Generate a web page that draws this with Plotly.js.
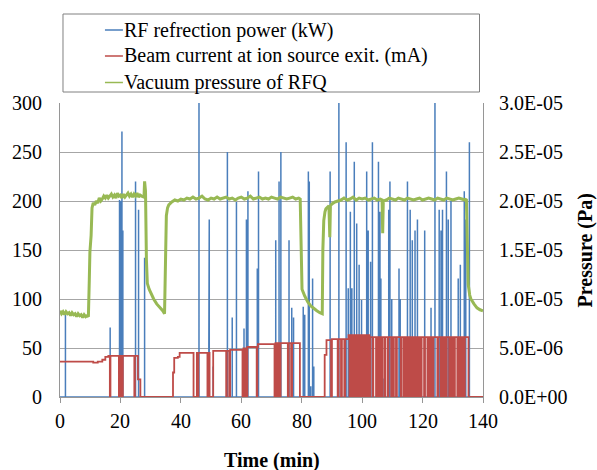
<!DOCTYPE html>
<html>
<head>
<meta charset="utf-8">
<script src="https://cdn.plot.ly/plotly-3.0.1.min.js"></script>
<style>
html,body{margin:0;padding:0;background:#fff;}
#chart{width:597px;height:470px;}
</style>
</head>
<body>
<div id="chart"></div>
<script>
// ---------------- DATA ----------------
// RF refraction power spikes (kW): time (min) and peak height
const spikeTime = [1.8, 16.6, 19.7, 20.0, 20.5, 20.8, 25.0, 26.0, 28.0,
  46.0, 49.2, 49.4, 50.7, 55.4, 57.0, 58.4, 60.9, 61.7, 62.2, 65.3, 65.7,
  71.4, 72.5, 73.1, 75.8, 76.7, 77.3, 80.5, 81.0, 82.2, 82.5, 83.0, 83.6, 84.0,
  89.4, 92.3, 94.7, 95.4, 96.1, 96.6, 97.4, 98.2, 99.0, 99.8, 101.5, 102.0, 102.8,
  103.4, 105.4, 105.9, 106.2, 106.9, 108.8, 109.2, 109.8, 112.2, 112.6, 115.0,
  115.9, 116.6, 117.5, 118.3, 120.7, 122.8, 124.1, 125.5, 126.1, 126.6, 127.9,
  128.5, 129.4, 131.8, 132.5, 133.8, 134.3, 135.5];
const spikePower = [84, 71, 201, 200, 271, 170, 220, 191, 142,
  300, 160, 181, 31, 250, 81, 199, 70, 181, 210, 131, 230,
  160, 220, 250, 160, 91, 81, 92, 84, 230, 220, 11, 121, 31,
  230, 300, 260, 111, 189, 111, 240, 177, 135, 99, 230, 170, 138,
  260, 240, 189, 121, 19, 191, 220, 100, 131, 100, 220,
  191, 160, 170, 181, 170, 91, 300, 191, 170, 191, 230,
  181, 200, 121, 135, 210, 181, 260];

// Beam current (mA): level changes (time, level)
const beamLevelTime = [0, 11, 12.5, 14, 15, 16, 25.8, 26.6, 37.4, 37.8, 39.0, 39.6,
  45.5, 49.5, 50.7, 56.0, 60.5, 62.0, 65.5, 71.0, 73.3, 79.4, 87.6, 88.2, 89.8,
  95.5, 102.5, 135.2];
const beamLevel = [36, 35, 36, 38, 41, 42, 18, 0, 25, 40, 41, 45,
  45, 0, 47, 48, 49.5, 51, 54, 55, 55, 0, 43, 58, 59,
  63, 61, 0];
// Beam interruptions: start and end times (min)
const dropStart = [16.5, 19.5, 20.0, 20.5, 24.6, 44.2, 45.6, 48.8, 55.0, 56.0,
  60.4, 61.2, 61.8, 65.1, 71.0, 71.5, 72.1, 72.7, 75.4, 76.5,
  89.7, 91.9, 93.0, 94.1, 95.8, 96.4, 96.9, 97.7, 98.2, 98.5, 99.3, 99.8, 100.2, 100.8,
  101.3, 101.9, 102.4, 103.5, 104.6, 105.5, 106.3, 107.3, 108.4, 109.6, 110.3, 111.2,
  112.8, 113.8, 114.5, 115.3, 116.1, 117.0, 117.8, 118.7, 119.4, 120.5, 121.6,
  122.5, 123.3, 124.9, 126.0, 126.9, 127.7, 128.8, 129.7, 130.4, 131.5, 132.1,
  133.0, 133.7];
const dropEnd = [16.7, 19.7, 20.2, 20.8, 24.8, 45.3, 45.8, 49.0, 55.2, 56.3,
  60.7, 61.4, 62.0, 65.3, 71.3, 71.8, 72.4, 73.0, 75.7, 76.8,
  90.0, 92.2, 93.3, 94.4, 96.1, 96.6, 97.2, 98.0, 98.4, 98.8, 99.6, 100.0, 100.5, 101.0,
  101.6, 102.1, 102.7, 103.7, 104.9, 105.7, 106.6, 107.6, 108.7, 109.8, 110.5, 111.5,
  113.1, 114.0, 114.8, 115.5, 116.4, 117.2, 118.1, 118.9, 119.7, 120.8, 121.9,
  122.7, 123.6, 125.2, 126.3, 127.1, 128.0, 129.1, 129.9, 130.7, 131.7, 132.4,
  133.2, 134.0];

// Vacuum pressure of RFQ (x 1E-06 Pa)
const pressTime = [0, 0.5, 1, 1.5, 2, 2.5, 3, 3.5, 4, 4.5, 5, 5.5, 6, 6.5, 7, 7.5, 8, 8.5, 9, 9.4, 9.7, 9.9, 10.3, 10.6, 11, 11.5, 12, 12.5, 13, 13.5, 14, 14.5, 15,
  15.5, 16, 16.5, 17, 17.5, 18, 18.5, 19, 19.5, 20, 20.5, 21, 21.5, 22, 22.5, 23, 23.5, 24, 24.5, 25, 25.5, 26, 26.5, 27, 27.8, 28.0, 28.3, 28.6, 28.9, 29.5, 30, 31,
  32, 33, 34, 34.6, 34.9, 35.2, 35.6, 36, 37, 38, 39, 40, 41, 42, 43, 44, 45, 46, 47, 48,
  49, 50, 51, 52, 53, 54, 55, 56, 57, 58, 59, 60, 61, 62, 63, 64, 65, 66, 67, 68,
  69, 70, 71, 72, 73, 74, 75, 76, 77, 78, 79, 79.5, 79.8, 80.1, 81, 82, 83, 84, 85, 86,
  86.8, 87.0, 87.3, 87.7, 88, 89, 89.3, 89.5, 90, 91, 92, 93, 94, 95, 96, 97, 98, 99,
  100, 101, 102, 103, 104, 105, 106, 106.6, 106.8, 107.0, 108, 109, 110, 111, 112, 113,
  114, 115, 116, 117, 118, 119, 120, 121, 122, 123, 124, 125, 126, 127, 128, 129, 130,
  131, 132, 133, 134, 134.5, 134.8, 135.1, 135.6, 136, 137, 138, 139, 140];
const pressE6 = [8.8, 8.5, 8.7, 8.4, 8.7, 8.5, 8.6, 8.3, 8.6, 8.4, 8.5, 8.2, 8.5, 8.3, 8.4, 8.1, 8.4, 8.2, 8.3, 8.2, 12.0, 14.8, 16.5, 19.3, 19.8, 19.6, 20.0, 19.8, 20.3, 20.0, 20.2, 20.5, 20.3,
  20.6, 20.3, 20.5, 20.7, 20.4, 20.6, 20.3, 20.8, 20.5, 20.6, 20.3, 20.7, 20.4, 20.6, 20.8, 20.5, 20.7, 20.4, 20.7, 20.5, 20.8, 20.4, 20.6, 20.5, 20.4, 22.0, 21.0, 14.0, 11.6, 11.0, 10.6, 10.0,
  9.5, 9.2, 8.8, 8.5, 15.0, 18.5, 19.3, 19.6, 19.9, 20.1, 20.0, 20.2, 20.1, 20.3, 20.2, 20.4, 20.2, 20.3, 20.5, 20.2,
  20.1, 20.3, 20.2, 20.4, 20.2, 20.3, 20.4, 20.2, 20.3, 20.1, 20.3, 20.4, 20.2, 20.3, 20.5, 20.2, 20.3, 20.4, 20.2, 20.3,
  20.2, 20.4, 20.3, 20.2, 20.4, 20.3, 20.2, 20.3, 20.4, 20.2, 20.3, 20.2, 14.5, 11.0, 10.3, 9.7, 9.3, 9.0, 8.8, 8.6,
  8.5, 15.0, 18.0, 18.9, 19.2, 19.5, 16.3, 19.5, 19.7, 19.9, 20.0, 20.1, 20.3, 20.1, 20.2, 20.4, 20.1, 20.3,
  20.2, 20.3, 20.1, 20.2, 20.3, 20.1, 20.2, 20.1, 16.7, 20.0, 20.1, 20.3, 20.2, 20.1, 20.3, 20.2,
  20.1, 20.3, 20.2, 20.1, 20.2, 20.3, 20.1, 20.2, 20.3, 20.2, 20.1, 20.3, 20.2, 20.1, 20.3, 20.2, 20.1,
  20.2, 20.3, 20.2, 20.1, 20.2, 15.0, 11.5, 10.4, 10.0, 9.5, 9.1, 8.9, 8.8];

const xTicks = [0, 20, 40, 60, 80, 100, 120, 140];
const yTicks = [0, 50, 100, 150, 200, 250, 300];
const y2TickVals = [0, 5e-6, 1e-5, 1.5e-5, 2e-5, 2.5e-5, 3e-5];
const y2TickText = ["0.0E+00", "5.0E-06", "1.0E-05", "1.5E-05", "2.0E-05", "2.5E-05", "3.0E-05"];
const seriesNames = ["RF refrection power (kW)", "Beam current at ion source exit. (mA)", "Vacuum pressure of RFQ"];
const xTitle = "Time (min)";
const y2Title = "Pressure (Pa)";

// ---------------- BUILD TRACES ----------------
const blueX = [0], blueY = [0];
spikeTime.forEach((t, i) => { blueX.push(t, t, t); blueY.push(0, spikePower[i], 0); });
blueX.push(140); blueY.push(0);

function levelAt(t) {
  let v = beamLevel[0];
  for (let i = 0; i < beamLevelTime.length; i++) if (beamLevelTime[i] <= t) v = beamLevel[i];
  return v;
}
function inDrop(t) {
  for (let i = 0; i < dropStart.length; i++) if (t >= dropStart[i] && t < dropEnd[i]) return true;
  return false;
}
const bp = Array.from(new Set([...beamLevelTime, ...dropStart, ...dropEnd, 140])).sort((a, b) => a - b);
const redX = bp, redY = bp.map(t => inDrop(t) ? 0 : levelAt(t));

const greenY = pressE6.map(v => v * 1e-6);

const C_BLUE = '#4a7ebb', C_RED = '#be4b48', C_GREEN = '#98b954';
const SERIF = 'Liberation Serif';
const txtFont = {family: SERIF, size: 20, color: '#000'};
const traces = [
  {x: blueX, y: blueY, type: 'scatter', mode: 'lines', name: seriesNames[0], line: {color: C_BLUE, width: 1.5}, yaxis: 'y'},
  {x: redX, y: redY, type: 'scatter', mode: 'lines', name: seriesNames[1], line: {color: C_RED, width: 1.8, shape: 'hv'}, yaxis: 'y'},
  {x: pressTime, y: greenY, type: 'scatter', mode: 'lines', name: seriesNames[2], line: {color: C_GREEN, width: 3}, yaxis: 'y2'}
];

// plot-area geometry (pixels) and helpers to paper coords
const L = 60, R = 483.5, T = 103, B = 397;
const px = v => (v - L) / (R - L), py = v => (B - v) / (B - T);

// manual legend
const rowY = [30, 56, 82.5];
const colors = [C_BLUE, C_RED, C_GREEN];
const shapes = [{type: 'rect', xref: 'paper', yref: 'paper', x0: px(63), x1: px(480), y0: py(14), y1: py(92),
  line: {color: '#808080', width: 1}, fillcolor: 'rgba(0,0,0,0)'}];
const annotations = [];
rowY.forEach((r, i) => {
  shapes.push({type: 'line', xref: 'paper', yref: 'paper', x0: px(105), x1: px(123), y0: py(r), y1: py(r), line: {color: colors[i], width: 1.5}});
  annotations.push({xref: 'paper', yref: 'paper', x: px(122), y: py(r), xanchor: 'left', yanchor: 'middle', showarrow: false,
    text: seriesNames[i], font: txtFont});
});

// tick labels as serif text, placed through the axes' own scales
xTicks.forEach(v => annotations.push({xref: 'x', yref: 'paper', x: v, y: py(421), xanchor: 'center', yanchor: 'middle',
  showarrow: false, text: String(v), font: txtFont}));
yTicks.forEach(v => annotations.push({xref: 'paper', yref: 'y', x: px(44), y: v, xanchor: 'right', yanchor: 'middle',
  showarrow: false, text: String(v), font: txtFont}));
y2TickVals.forEach((v, i) => annotations.push({xref: 'paper', yref: 'y2', x: px(498), y: v, xanchor: 'left', yanchor: 'middle',
  showarrow: false, text: y2TickText[i], font: txtFont}));
// axis titles
annotations.push({xref: 'paper', yref: 'paper', x: 0.5, y: py(460), xanchor: 'center', yanchor: 'middle', showarrow: false,
  text: '<b>' + xTitle + '</b>', font: txtFont});
annotations.push({xref: 'paper', yref: 'paper', x: px(586), y: 0.5, xanchor: 'center', yanchor: 'middle', showarrow: false,
  textangle: -90, text: '<b>' + y2Title + '</b>', font: txtFont});

const layout = {
  width: 597, height: 470,
  margin: {l: L, r: 597 - R, t: T, b: 470 - B, pad: 0},
  paper_bgcolor: '#fff', plot_bgcolor: '#fff',
  showlegend: false,
  font: txtFont,
  xaxis: {range: [0, 140], tickvals: xTicks, showticklabels: false, showgrid: false, zeroline: false,
    showline: true, linecolor: '#969696', linewidth: 1, ticks: 'outside', ticklen: 5, tickcolor: '#969696', automargin: false},
  yaxis: {range: [0, 300], tickvals: yTicks, showticklabels: false, showgrid: true, gridcolor: '#a6a6a6', gridwidth: 1,
    zeroline: false, showline: true, linecolor: '#969696', linewidth: 1, ticks: '', automargin: false},
  yaxis2: {range: [0, 3e-5], overlaying: 'y', side: 'right', tickvals: y2TickVals, showticklabels: false, showgrid: false,
    zeroline: false, showline: true, linecolor: '#969696', linewidth: 1, ticks: '', automargin: false},
  shapes: shapes,
  annotations: annotations
};
Plotly.newPlot('chart', traces, layout, {displayModeBar: false, staticPlot: true});
</script>
</body>
</html>
